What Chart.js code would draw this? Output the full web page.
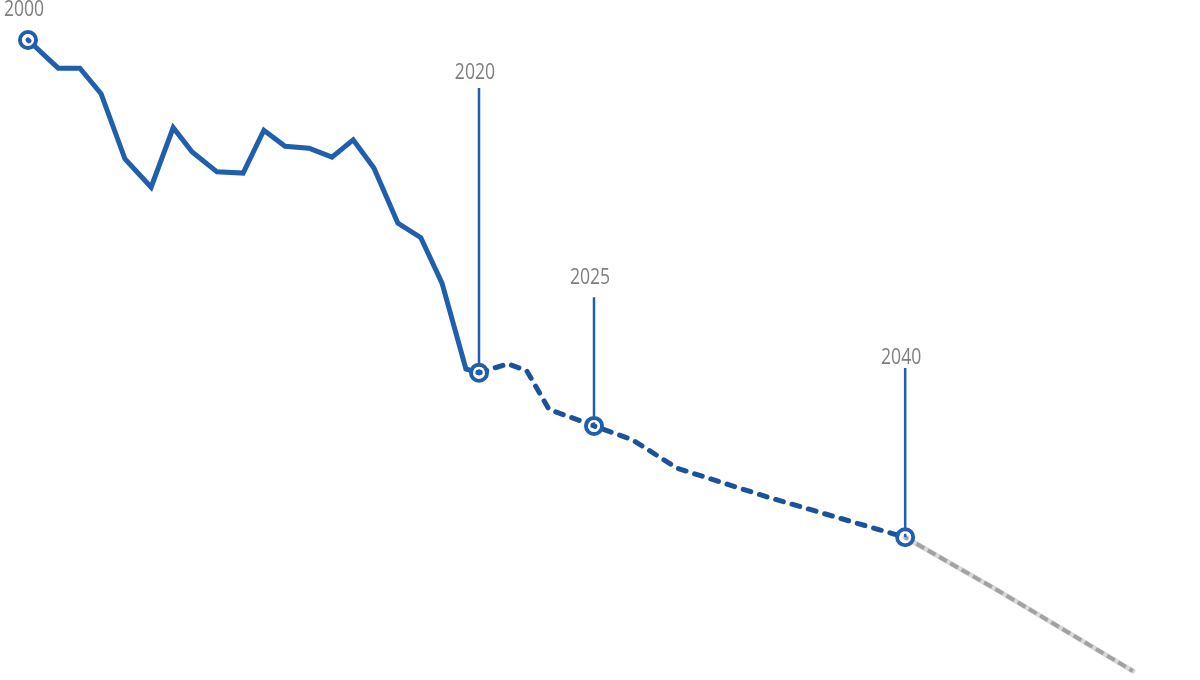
<!DOCTYPE html>
<html lang="en">
<head>
<meta charset="UTF-8">
<title>Trajectory 2000-2040</title>
<style>
  html, body { margin: 0; padding: 0; background: #fff; }
  #wrap { width: 1200px; height: 680px; }
</style>
</head>
<body>
<div id="wrap"><canvas id="myChart" width="1200" height="680"></canvas></div>

<script src="https://cdn.jsdelivr.net/npm/chart.js@4.4.1/dist/chart.umd.min.js"></script>
<script>
    // index: 2000 = 0, 2020 = 100 (x) / 2000 = 100 (y)
    var histX = [0, 6.7, 11.5, 16.2, 21.5, 27.3, 32.2, 36.4, 41.9, 47.7, 52.3, 57.0, 62.3, 67.4, 72.1, 76.7, 82.0, 87.1, 91.8, 97.1, 100];
    var histY = [100, 95.6, 95.6, 91.6, 81.4, 77.0, 86.3, 82.5, 79.4, 79.2, 85.9, 83.4, 83.1, 81.7, 84.4, 80.0, 71.4, 69.1, 62.0, 48.6, 48.0];

    var planX = [100, 106.4, 110.6, 115.5, 125.5, 134.1, 143.9, 163.9, 194.5];
    var planY = [48.0, 49.4, 48.3, 42.3, 39.7, 37.5, 33.1, 28.6, 22.3];

    var trendX = [194.5, 215.5, 245.0];
    var trendY = [22.3, 13.8, 1.4];

    var markLabels = ['2000', '2020', '2025', '2040'];
    var markX = [0, 100, 125.5, 194.5];
    var markY = [100, 48.0, 39.7, 22.3];
    var stemTop = [null, 92.5, 59.8, 48.75];
    var labelY = [104.8, 94.9, 62.8, 50.4];

    var BLUE = '#1f5fae';
    var DARK_BLUE = '#1c529c';

    function pts(xs, ys) {
        return xs.map(function (x, i) { return { x: x, y: ys[i] }; });
    }

    var datasets = [];

    // marker rings (on top)
    datasets.push({
        type: 'scatter', data: pts(markX, markY), order: 0,
        pointStyle: 'circle', pointRadius: 4.8, pointBorderWidth: 2.4,
        pointBorderColor: '#ffffff', pointBackgroundColor: 'rgba(0,0,0,0)',
        clip: false
    });
    datasets.push({
        type: 'scatter', data: pts(markX, markY), order: 1,
        pointStyle: 'circle', pointRadius: 8, pointBorderWidth: 4,
        pointBorderColor: BLUE, pointBackgroundColor: 'rgba(0,0,0,0)',
        clip: false
    });

    // stems from labels down to markers
    markX.forEach(function (x, i) {
        if (stemTop[i] === null) return;
        datasets.push({
            data: [{ x: x, y: stemTop[i] }, { x: x, y: markY[i] }],
            borderColor: BLUE, borderWidth: 2.5, pointRadius: 0,
            order: 2, clip: false
        });
    });

    datasets.push({
        data: pts(histX, histY), borderColor: BLUE, borderWidth: 5,
        pointRadius: 0, borderCapStyle: 'round', borderJoinStyle: 'miter',
        order: 3, clip: false
    });
    datasets.push({
        data: pts(planX, planY), borderColor: DARK_BLUE, borderWidth: 5,
        borderDash: [8, 9], borderCapStyle: 'round', borderJoinStyle: 'round',
        pointRadius: 0, order: 4, clip: false
    });
    datasets.push({
        data: pts(trendX, trendY), borderColor: '#a2a2a2', borderWidth: 4,
        borderDash: [9, 4], borderCapStyle: 'butt', borderJoinStyle: 'round',
        pointRadius: 0, order: 5, clip: false
    });
    datasets.push({
        data: pts(trendX, trendY), borderColor: '#d9d9d9', borderWidth: 5,
        borderCapStyle: 'round', borderJoinStyle: 'round',
        pointRadius: 0, order: 6, clip: false
    });

    // narrow, light year labels
    var yearLabels = {
        id: 'yearLabels',
        afterDatasetsDraw: function (chart) {
            var ctx = chart.ctx;
            var xs = chart.scales.x, ys = chart.scales.y;
            ctx.save();
            ctx.font = '22px "Open Sans", "Noto Sans", sans-serif';
            ctx.fillStyle = '#7f7f7f';
            ctx.textAlign = 'center';
            ctx.textBaseline = 'middle';
            markLabels.forEach(function (t, i) {
                var px = xs.getPixelForValue(markX[i]) - 4;
                var py = ys.getPixelForValue(labelY[i]);
                ctx.save();
                ctx.translate(px, py);
                ctx.scale(0.8, 1);
                ctx.fillText(t, 0, 0);
                ctx.restore();
            });
            ctx.restore();
        }
    };

    new Chart(document.getElementById('myChart').getContext('2d'), {
        type: 'line',
        data: { datasets: datasets },
        options: {
            responsive: false,
            animation: false,
            layout: { padding: 0, autoPadding: false },
            plugins: { legend: { display: false }, tooltip: { enabled: false } },
            scales: {
                x: { type: 'linear', min: -6.21, max: 259.87, display: false },
                y: { type: 'linear', min: 0, max: 106.25, display: false }
            }
        },
        plugins: [yearLabels]
    });
</script>
</body>
</html>
